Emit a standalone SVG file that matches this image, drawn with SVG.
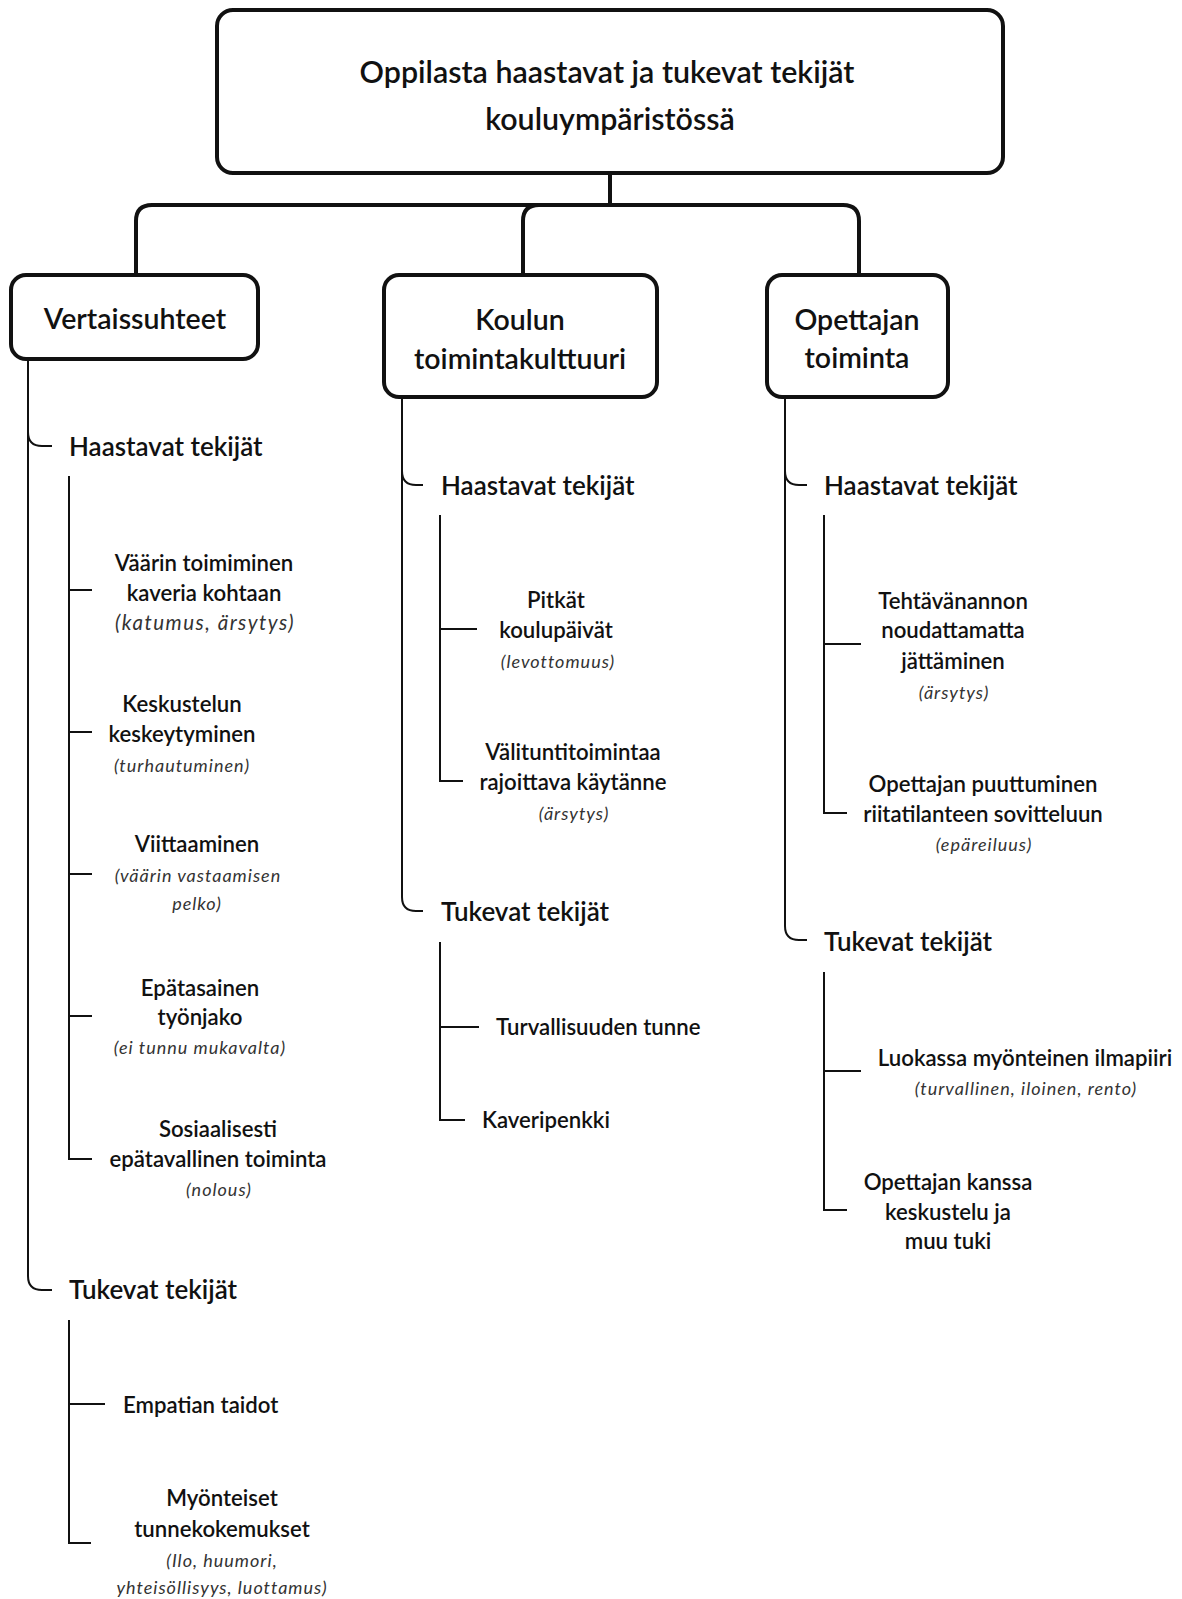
<svg xmlns="http://www.w3.org/2000/svg" width="1182" height="1599" viewBox="0 0 1182 1599">
<style>
text{font-family:"Lato","Noto Sans",sans-serif;fill:#111;dominant-baseline:central}
.box{fill:#fff;stroke:#111;stroke-width:4}
.conn{fill:none;stroke:#111;stroke-width:4;stroke-linejoin:round}
.tree{fill:none;stroke:#111;stroke-width:2}
.t1{font-size:30.4px;text-anchor:middle;font-weight:600}
.t2{font-size:28.5px;text-anchor:middle;font-weight:600}
.h{font-size:26px;font-weight:600}
.i{font-size:22.2px;text-anchor:middle;font-weight:600}
.il{font-size:22.2px;font-weight:600}
.e{font-size:18px;font-style:italic;text-anchor:middle;fill:#333;letter-spacing:1px}
.eb{font-size:20.5px;font-style:italic;text-anchor:middle;fill:#333;letter-spacing:1.5px}
</style>
<rect width="1182" height="1599" fill="#fff"/>
<g id="connectors">
<path class="conn" d="M610,173 V205"/>
<path class="conn" d="M136,275 V221 Q136,205 152,205 H843 Q859,205 859,221 V275"/>
<path class="conn" d="M523,275 V221 Q523,205 539,205"/>
<path class="tree" d="M28,359 V1276 Q28,1290 42,1290 H52"/>
<path class="tree" d="M28,432 Q28,446 42,446 H52"/>
<path class="tree" d="M69,476 V1159 H92 M69,590 H92 M69,732 H92 M69,874 H92 M69,1016 H92"/>
<path class="tree" d="M69,1320 V1543 H91 M69,1404 H105"/>
<path class="tree" d="M402,397 V897 Q402,911 416,911 H423"/>
<path class="tree" d="M402,471 Q402,485 416,485 H423"/>
<path class="tree" d="M440,515 V781 H463 M440,629 H477"/>
<path class="tree" d="M440,942 V1120 H465 M440,1027 H479"/>
<path class="tree" d="M785,397 V926 Q785,940 799,940 H807"/>
<path class="tree" d="M785,471 Q785,485 799,485 H807"/>
<path class="tree" d="M824,515 V813 H847 M824,644 H861"/>
<path class="tree" d="M824,972 V1210 H847 M824,1071 H861"/>
</g>
<g id="root">
<rect class="box" x="217" y="10" width="786" height="163" rx="16"/>
<text class="t1" x="607" y="71">Oppilasta haastavat ja tukevat tekijät</text>
<text class="t1" x="610" y="118">kouluympäristössä</text>
</g>
<g id="vertaissuhteet">
<rect class="box" x="11" y="275" width="247" height="84" rx="15"/>
<text class="t2" x="135" y="318">Vertaissuhteet</text>
</g>
<g id="koulun">
<rect class="box" x="384" y="275" width="273" height="122" rx="15"/>
<text class="t2" x="520" y="319">Koulun</text>
<text class="t2" x="520" y="358">toimintakulttuuri</text>
</g>
<g id="opettajan">
<rect class="box" x="767" y="275" width="181" height="122" rx="15"/>
<text class="t2" x="857" y="319">Opettajan</text>
<text class="t2" x="857" y="357">toiminta</text>
</g>
<g id="c1-haastavat"><text class="h" x="69" y="446">Haastavat tekijät</text></g>
<g id="c1-vaarin">
<text class="i" x="204" y="562">Väärin toimiminen</text>
<text class="i" x="204" y="592">kaveria kohtaan</text>
<text class="eb" x="205" y="622">(katumus, ärsytys)</text>
</g>
<g id="c1-keskustelun">
<text class="i" x="182" y="703">Keskustelun</text>
<text class="i" x="182" y="733">keskeytyminen</text>
<text class="e" x="182" y="765">(turhautuminen)</text>
</g>
<g id="c1-viittaaminen">
<text class="i" x="197" y="843">Viittaaminen</text>
<text class="e" x="198" y="875">(väärin vastaamisen</text>
<text class="e" x="197" y="903">pelko)</text>
</g>
<g id="c1-epatasainen">
<text class="i" x="200" y="987">Epätasainen</text>
<text class="i" x="200" y="1016">työnjako</text>
<text class="e" x="200" y="1047">(ei tunnu mukavalta)</text>
</g>
<g id="c1-sosiaalisesti">
<text class="i" x="218" y="1128">Sosiaalisesti</text>
<text class="i" x="218" y="1158">epätavallinen toiminta</text>
<text class="e" x="219" y="1189">(nolous)</text>
</g>
<g id="c1-tukevat"><text class="h" x="69" y="1289">Tukevat tekijät</text></g>
<g id="c1-empatian"><text class="il" x="123" y="1404">Empatian taidot</text></g>
<g id="c1-myonteiset">
<text class="i" x="222" y="1497">Myönteiset</text>
<text class="i" x="222" y="1528">tunnekokemukset</text>
<text class="e" x="222" y="1560">(Ilo, huumori,</text>
<text class="e" x="222" y="1587">yhteisöllisyys, luottamus)</text>
</g>
<g id="c2-haastavat"><text class="h" x="441" y="485">Haastavat tekijät</text></g>
<g id="c2-pitkat">
<text class="i" x="556" y="599">Pitkät</text>
<text class="i" x="556" y="629">koulupäivät</text>
<text class="e" x="558" y="661">(levottomuus)</text>
</g>
<g id="c2-valitunti">
<text class="i" x="573" y="751">Välituntitoimintaa</text>
<text class="i" x="573" y="781">rajoittava käytänne</text>
<text class="e" x="574" y="813">(ärsytys)</text>
</g>
<g id="c2-tukevat"><text class="h" x="441" y="911">Tukevat tekijät</text></g>
<g id="c2-turvallisuus"><text class="il" x="496" y="1026">Turvallisuuden tunne</text></g>
<g id="c2-kaveripenkki"><text class="il" x="482" y="1119">Kaveripenkki</text></g>
<g id="c3-haastavat"><text class="h" x="824" y="485">Haastavat tekijät</text></g>
<g id="c3-tehtavananto">
<text class="i" x="953" y="600">Tehtävänannon</text>
<text class="i" x="953" y="629">noudattamatta</text>
<text class="i" x="953" y="660">jättäminen</text>
<text class="e" x="954" y="692">(ärsytys)</text>
</g>
<g id="c3-puuttuminen">
<text class="i" x="983" y="783">Opettajan puuttuminen</text>
<text class="i" x="983" y="813">riitatilanteen sovitteluun</text>
<text class="e" x="984" y="844">(epäreiluus)</text>
</g>
<g id="c3-tukevat"><text class="h" x="824" y="941">Tukevat tekijät</text></g>
<g id="c3-ilmapiiri">
<text class="i" x="1025" y="1057">Luokassa myönteinen ilmapiiri</text>
<text class="e" x="1026" y="1088">(turvallinen, iloinen, rento)</text>
</g>
<g id="c3-keskustelu">
<text class="i" x="948" y="1181">Opettajan kanssa</text>
<text class="i" x="948" y="1211">keskustelu ja</text>
<text class="i" x="948" y="1240">muu tuki</text>
</g>
</svg>
